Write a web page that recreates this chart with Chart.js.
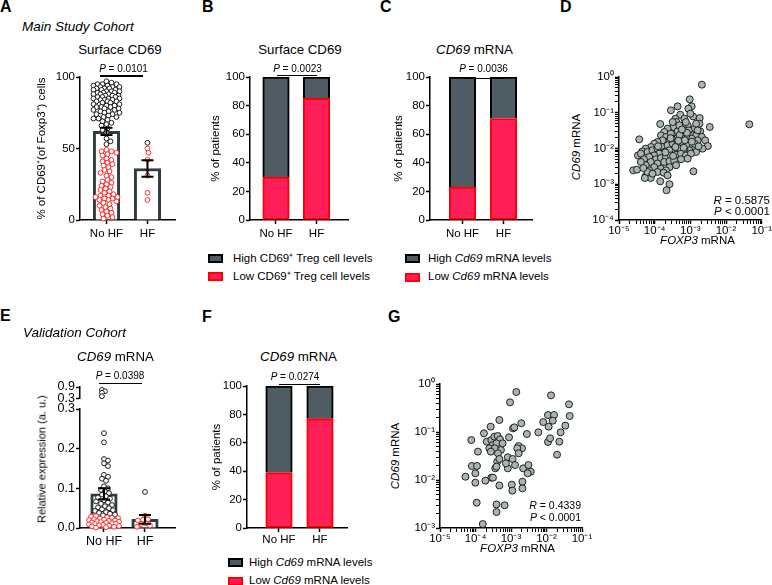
<!DOCTYPE html>
<html>
<head>
<meta charset="utf-8">
<script src="https://cdn.jsdelivr.net/npm/chart.js@4.4.1/dist/chart.umd.min.js"></script>
<style>
  body { margin: 0; width: 772px; height: 585px; position: relative; overflow: hidden; background: #fff;
         font-family: "Liberation Sans", Arial, sans-serif; color: #000; }
  canvas { position: absolute; }
  .t { position: absolute; white-space: nowrap; line-height: 1; }
  .sw { position: absolute; width: 15px; height: 9px; box-sizing: border-box; border: 2px solid; }
  .ln { position: absolute; height: 1.5px; background: #000; }
</style>
</head>
<body>
<script>
// ---------- data ----------
const groups = ['No HF', 'HF'];

// A: surface CD69, % CD69+ of Foxp3+ cells (main cohort)
const aNoHFHigh = [97, 96, 95, 95, 95, 94, 94, 93, 93, 93, 92, 92, 92, 91, 91, 91, 90, 90, 90, 89, 89, 89,
                   88, 88, 88, 87, 87, 87, 86, 86, 86, 85, 85, 85, 84, 84, 84, 83, 83, 83, 82, 82, 81, 81,
                   80, 80, 79, 79, 79, 78, 78, 77, 77, 76, 76, 75, 75, 74, 74, 73, 72, 72, 71, 71, 70, 69,
                   68, 67, 66, 64, 63, 61, 57, 55, 53];
const aNoHFLow = [49, 48, 48, 47, 46, 45, 43, 42, 41, 40, 39, 38, 37, 35, 34, 33, 31, 30, 28, 27, 26, 25,
                  24, 23, 22, 21, 20, 19, 18, 17, 17, 16, 16, 15, 15, 14, 14, 13, 12, 11, 10, 9, 8, 7, 6,
                  5, 4, 3, 2, 1];
const aHFHigh = [54];
const aHFLow = [50, 47, 42, 31, 19, 14];
const aMean = [62, 36];
const aSem = [2.5, 5.8];
const aTicks = [0, 50, 100];

// B, C, F: % of patients (low / high)
const bLow = [30, 85], bHigh = [70, 15];
const cLow = [23, 71], cHigh = [77, 29];
const fLow = [39, 77], fHigh = [61, 23];
const pctTicks = [0, 20, 40, 60, 80, 100];

// D: FOXP3 vs CD69 mRNA (main cohort)
const dX = [2.1e-3, 9.6e-4, 1.09e-3, 8.8e-4, 4.4e-4, 2.85e-4, 5.2e-4, 1.19e-3, 1.83e-3, 1.0e-3,
            6.8e-4, 3.8e-4, 4.05e-4, 1.43e-4, 4.5e-2, 3.5e-3, 1.8e-3, 1.9e-3, 1.3e-3, 8.4e-4,
            6.1e-4, 3.4e-4, 2.3e-4, 1.85e-4, 1.5e-4, 2.07e-4, 2.85e-4, 4.4e-4, 6.8e-4, 1.0e-3,
            1.45e-3, 2.1e-3, 2.6e-3, 3.1e-3, 1.6e-3, 1.09e-3, 7.5e-4, 5.5e-4, 4.0e-4, 2.6e-4,
            1.66e-4, 1.2e-4, 9.7e-5, 3.7e-5, 7.8e-5, 5.6e-5, 4.5e-5, 3.4e-5, 4.1e-5, 6.3e-5,
            8.7e-5, 1.2e-4, 1.66e-4, 2.3e-4, 3.2e-4, 4.4e-4, 6.1e-4, 8.1e-4, 1.16e-3, 1.45e-3,
            9.4e-4, 6.8e-4, 4.9e-4, 3.5e-4, 2.6e-4, 1.85e-4, 1.34e-4, 9.7e-5, 7.0e-5, 5.0e-5,
            1.08e-4, 1.5e-4, 2.07e-4, 2.85e-4, 4.0e-4, 5.5e-4, 7.5e-4, 1.04e-3, 7.8e-5, 1.2e-4,
            1.85e-4, 2.6e-4, 3.5e-4, 5.6e-5, 9.7e-5, 1.5e-4, 2.6e-4, 4.0e-4, 7.0e-5, 1.2e-4,
            2.07e-4, 2.5e-5, 3.2e-5, 5.6e-5, 6.3e-5, 7.8e-5, 1.43e-4, 2.6e-4, 2.15e-4, 1.22e-3,
            5.3e-5, 1.78e-4, 8.7e-5, 4.1e-5, 4.8e-5, 2.3e-4, 5.5e-4, 8.4e-4, 1.3e-3, 2.2e-3,
            1.6e-3, 4.9e-4, 3.2e-4, 7.5e-4, 1.45e-3, 3.0e-4, 5.0e-4, 7.0e-4, 9.0e-4, 2.0e-4,
            3.8e-4, 6.5e-4, 1.1e-3, 1.25e-4, 8.0e-4, 5.8e-4, 4.6e-4, 3.3e-4, 1.7e-3, 2.8e-4];
const dY = [0.61, 0.237, 0.151, 0.13, 0.151, 0.117, 0.088, 0.079, 0.071, 0.094,
            0.068, 0.068, 0.055, 0.0485, 0.0474, 0.040, 0.0495, 0.0302, 0.0359, 0.0445,
            0.0426, 0.040, 0.0359, 0.029, 0.0233, 0.021, 0.026, 0.0302, 0.0302, 0.026,
            0.0233, 0.021, 0.0169, 0.0117, 0.0169, 0.0188, 0.021, 0.021, 0.0188, 0.0169,
            0.0169, 0.0152, 0.0136, 0.018, 0.011, 0.0099, 0.0083, 0.0064, 0.0072, 0.008,
            0.0089, 0.0099, 0.011, 0.0123, 0.0136, 0.0136, 0.0146, 0.0123, 0.011, 0.008,
            0.0089, 0.0095, 0.0099, 0.0095, 0.0089, 0.008, 0.0072, 0.0064, 0.0058, 0.005,
            0.005, 0.0054, 0.0058, 0.0064, 0.0067, 0.0072, 0.0064, 0.0072, 0.0042, 0.0038,
            0.0042, 0.0044, 0.0047, 0.0034, 0.003, 0.00273, 0.003, 0.0034, 0.00245, 0.0022,
            0.00245, 0.00245, 0.00256, 0.0017, 0.0022, 0.0015, 0.00121, 0.001, 0.00068, 0.0023,
            0.0015, 0.0021, 0.00198, 0.0042, 0.00285, 0.00177, 0.005, 0.0052, 0.0136, 0.0099,
            0.0322, 0.0445, 0.055, 0.055, 0.0495, 0.019, 0.024, 0.017, 0.032, 0.0078,
            0.011, 0.0105, 0.0155, 0.0115, 0.0275, 0.034, 0.0165, 0.0062, 0.0115, 0.0195];

// E: CD69 mRNA relative expression (validation cohort)
const eNoHFHigh = [0.75, 0.68, 0.6, 0.42, 0.239, 0.216, 0.174, 0.170, 0.163, 0.156, 0.134, 0.129, 0.124,
                   0.119, 0.105, 0.1, 0.096, 0.092, 0.088, 0.084, 0.08, 0.077, 0.074, 0.07, 0.067, 0.064,
                   0.061, 0.058, 0.055, 0.052, 0.05, 0.047, 0.045, 0.043, 0.04, 0.038, 0.036, 0.034, 0.032];
const eNoHFLow = [0.03, 0.029, 0.027, 0.026, 0.025, 0.024, 0.022, 0.021, 0.02, 0.019, 0.018, 0.017, 0.016,
                  0.015, 0.014, 0.013, 0.012, 0.011, 0.01, 0.009, 0.008, 0.007, 0.006, 0.005, 0.004, 0.003,
                  0.002, 0.001];
const eHFHigh = [0.091];
const eHFLow = [0.031, 0.022, 0.021, 0.019, 0.012, 0.01, 0.006, 0.003];
const eMean = [0.086, 0.022];
const eSem = [0.014, 0.011];
const eBreak = 0.3;
const eTicksLow = [0, 0.1, 0.2, 0.3];
const eTicksHigh = [0.3, 0.9];

// G: FOXP3 vs CD69 mRNA (validation cohort)
const gX = [1.41e-3, 9.4e-4, 1.34e-2, 4.3e-2, 4.5e-2, 1.1e-2, 1.63e-2, 1.5e-2, 8.1e-3, 3.4e-2,
            1.15e-2, 5.9e-3, 2.5e-2, 1.1e-2, 1.26e-2, 2.3e-2, 1.98e-2, 2.67e-4, 4.7e-4, 1.14e-3,
            1.24e-3, 1.95e-3, 8.8e-4, 2.8e-3, 1.73e-4, 7.6e-5, 2.07e-4, 2.8e-4, 3.4e-4, 4.2e-4,
            4.9e-4, 3.05e-4, 3.9e-4, 2.45e-4, 3.5e-4, 5.2e-4, 1.17e-4, 1.64e-3, 2.04e-3, 1.5e-3,
            4.3e-4, 8.1e-4, 1.11e-3, 1.3e-3, 4.1e-4, 4.7e-4, 3.6e-4, 3.9e-4, 7.9e-5, 1.1e-4,
            8.1e-4, 2.2e-3, 3.1e-3, 3.6e-3, 9.9e-5, 5.2e-5, 2.8e-4, 3.1e-4, 1.9e-4, 4.7e-4,
            1.05e-3, 2.1e-3, 2.1e-3, 1.09e-3, 1.08e-4, 3.9e-4, 6.6e-4, 3.9e-4, 1.6e-4, 1.64e-3,
            5.8e-4, 2.7e-4, 7.2e-4, 2.95e-3, 9.9e-5];
const gY = [0.68, 0.415, 0.58, 0.377, 0.215, 0.226, 0.226, 0.172, 0.161, 0.136,
            0.129, 0.0985, 0.0985, 0.062, 0.074, 0.063, 0.0337, 0.129, 0.178, 0.119,
            0.125, 0.152, 0.0774, 0.0908, 0.0938, 0.068, 0.063, 0.068, 0.08, 0.0826,
            0.0703, 0.0536, 0.058, 0.0457, 0.0457, 0.0422, 0.039, 0.051, 0.0457, 0.0457,
            0.036, 0.0297, 0.0274, 0.0205, 0.0241, 0.0274, 0.0175, 0.019, 0.0196, 0.0196,
            0.0175, 0.0175, 0.0205, 0.0149, 0.0138, 0.0117, 0.0112, 0.0112, 0.0097, 0.0077,
            0.008, 0.0092, 0.0067, 0.006, 0.00337, 0.0031, 0.00297, 0.00215, 0.00121, 0.036,
            0.058, 0.039, 0.0222, 0.0138, 0.0088];

const dXTicks = ['10⁻⁵', '10⁻⁴', '10⁻³', '10⁻²', '10⁻¹'];
const dYTicks = ['10⁻⁴', '10⁻³', '10⁻²', '10⁻¹', '10⁰'];
const gYTicks = ['10⁻³', '10⁻²', '10⁻¹', '10⁰'];

// ---------- style ----------
const RED = '#ff2b2b', BLK = '#1c1c1c', BAR = '#2f3d3e';
const HIGH_FILL = '#4f5c63', LOW_FILL = '#ff1f58', LOW_EDGE = '#ff0000', DOT = '#a8b6af';

Chart.defaults.font.family = '"Liberation Sans", Arial, sans-serif';
Chart.defaults.font.size = 11.5;
Chart.defaults.color = '#000';

function makeCanvas(left, top, w, h) {
  const c = document.createElement('canvas');
  c.width = w; c.height = h;
  c.style.left = left + 'px'; c.style.top = top + 'px';
  c.style.width = w + 'px'; c.style.height = h + 'px';
  document.body.appendChild(c);
  return c;
}

function axisStyle(tickLen, pad, size) {
  return {
    border: { display: true, color: '#000', width: 1.5 },
    grid: { display: true, drawOnChartArea: false, drawTicks: true, tickLength: tickLen, tickColor: '#000', tickWidth: 1.5 },
    ticks: { color: '#000', padding: pad, autoSkip: false, maxRotation: 0, minRotation: 0, font: { size: size } }
  };
}

function valueAxis(o) {
  const a = axisStyle(4, 1, o.font || 11.5);
  a.type = 'linear'; a.position = 'left';
  a.min = o.min; a.max = o.max; a.stacked = !!o.stacked;
  a.ticks.callback = o.fmt || (v => String(v));
  a.afterBuildTicks = s => { s.ticks = o.ticks.map(v => ({ value: v })); };
  a.afterFit = s => { s.width = o.width; };
  a.title = o.title ? { display: true, text: o.title, padding: 0, color: '#000', font: { size: 11.5 } } : { display: false };
  return a;
}

function groupAxis(o) {
  const a = axisStyle(4, o.pad, o.font || 11.5);
  a.type = 'linear'; a.position = 'bottom';
  a.min = o.min; a.max = o.max; a.offset = false; a.grid.offset = false;
  a.stacked = !!o.stacked; a.display = o.display !== false;
  a.ticks.callback = (v, i) => groups[i];
  a.afterBuildTicks = s => { s.ticks = groups.map((g, i) => ({ value: i })); };
  a.afterFit = s => { s.height = o.height; };
  return a;
}

function decadeTicks(lo, hi) {
  const t = [];
  for (let e = lo; e < hi; e++)
    for (let m = 1; m < 10; m++) t.push({ value: parseFloat(m + 'e' + e), major: m === 1 });
  t.push({ value: parseFloat('1e' + hi), major: true });
  return t;
}

function logAxis(o) {
  const a = axisStyle(4, o.pad, 11.5);
  a.type = 'logarithmic'; a.position = o.position;
  a.min = parseFloat('1e' + o.minExp); a.max = parseFloat('1e' + o.maxExp);
  a.grid.tickWidth = c => (c.tick && c.tick.major ? 1.5 : 1);
  a.ticks.callback = (v, i, t) => (t[i].major ? o.labels[Math.round(Math.log10(v)) - o.minExp] : '');
  a.afterBuildTicks = s => { s.ticks = decadeTicks(o.minExp, o.maxExp); };
  a.afterFit = o.position === 'left' ? (s => { s.width = o.size; }) : (s => { s.height = o.size; });
  return a;
}

function baseOptions(pad, scales, extra) {
  return {
    responsive: false, animation: false, layout: { padding: pad }, scales: scales,
    plugins: Object.assign({ legend: { display: false }, tooltip: { enabled: false } }, extra || {})
  };
}

function meanBar(vals) {
  return { type: 'bar', data: vals.map((v, i) => ({ x: i, y: v })), backgroundColor: '#fff',
           borderColor: BAR, borderWidth: 3, barThickness: 26.5, order: 2 };
}
function stackBar(vals, fill, edge, skip) {
  return { type: 'bar', data: vals.map((v, i) => ({ x: i, y: v })), backgroundColor: fill,
           borderColor: edge, borderWidth: 2, borderSkipped: skip, barThickness: 26.5, grouped: false };
}
function dots(vals, group, color) {
  return { type: 'scatter', data: vals.map(v => ({ x: group, y: v })), pointRadius: 2.4, pointBorderWidth: 1,
           pointBackgroundColor: '#fff', pointBorderColor: color, pointHoverRadius: 2.4, clip: false, order: 1 };
}
function cloud(xs, ys) {
  return { type: 'scatter', data: xs.map((x, i) => ({ x: x, y: ys[i] })), pointRadius: 3.5, pointBorderWidth: 0.9,
           pointBackgroundColor: DOT, pointBorderColor: '#111', pointHoverRadius: 3.5, clip: false };
}

// error bars (mean +/- SEM), drawn on the chart's scales
const errorBars = {
  id: 'errorBars',
  afterDatasetsDraw(chart, args, opts) {
    if (!opts.mean) return;
    const { ctx, scales: { x, y } } = chart;
    ctx.save();
    ctx.strokeStyle = '#000'; ctx.lineWidth = 2;
    opts.mean.forEach((m, i) => {
      const px = x.getPixelForValue(i);
      const top = y.getPixelForValue(m + opts.sem[i]);
      const bot = y.getPixelForValue(m - opts.sem[i]);
      ctx.beginPath();
      ctx.moveTo(px, top); ctx.lineTo(px, bot);
      ctx.moveTo(px - opts.cap, top); ctx.lineTo(px + opts.cap, top);
      ctx.moveTo(px - opts.cap, bot); ctx.lineTo(px + opts.cap, bot);
      ctx.stroke();
    });
    ctx.restore();
  }
};

// simple beeswarm: spread points sideways so they don't pile up
function swarm(chart, specs) {
  const xs = chart.scales.x, ys = chart.scales.y;
  const unit = xs.getPixelForValue(1) - xs.getPixelForValue(0);
  specs.forEach(sp => {
    const pts = [];
    sp.sets.forEach(di => {
      const ds = chart.data.datasets[di];
      ds.data = ds.data.map(p => ({ x: p.x, y: p.y }));
      ds.data.forEach(p => pts.push({ p: p, py: ys.getPixelForValue(p.y) }));
    });
    pts.sort((a, b) => a.py - b.py);
    const placed = [];
    pts.forEach(q => {
      let best = 0, bestD = -1;
      for (let k = 0; k <= 2 * sp.max; k++) {
        const off = (k % 2 ? 1 : -1) * Math.ceil(k / 2);
        let d = Infinity;
        for (const o of placed) d = Math.min(d, Math.hypot(o.x - off, o.y - q.py));
        if (d >= sp.gap) { best = off; break; }
        if (d > bestD) { bestD = d; best = off; }
      }
      placed.push({ x: best, y: q.py });
      q.p.x = sp.center + best / unit;
    });
  });
  chart.update('none');
}

// ---------- A ----------
const chartA = new Chart(makeCanvas(35, 62, 145, 182), {
  type: 'bar',
  data: { datasets: [meanBar(aMean), dots(aNoHFLow, 0, RED), dots(aNoHFHigh, 0, BLK), dots(aHFLow, 1, RED), dots(aHFHigh, 1, BLK)] },
  options: baseOptions({ top: 15, right: 5, bottom: 0, left: 0 }, {
    x: groupAxis({ min: -0.646, max: 1.671, height: 24, pad: 3 }),
    y: valueAxis({ min: 0, max: 100, ticks: aTicks, width: 45, title: '% of CD69⁺(of Foxp3⁺) cells' })
  }, { errorBars: { mean: aMean, sem: aSem, cap: 6 } }),
  plugins: [errorBars]
});
swarm(chartA, [{ sets: [1, 2], center: 0, max: 13, gap: 4.3 }, { sets: [3, 4], center: 1, max: 12, gap: 4.3 }]);

// ---------- B ----------
new Chart(makeCanvas(209, 62, 145, 182), {
  type: 'bar',
  data: { datasets: [stackBar(bLow, LOW_FILL, LOW_EDGE, false), stackBar(bHigh, HIGH_FILL, '#000', 'start')] },
  options: baseOptions({ top: 15, right: 6, bottom: 0, left: 0 }, {
    x: groupAxis({ min: -0.642, max: 1.778, height: 24, pad: 3, stacked: true }),
    y: valueAxis({ min: 0, max: 100, ticks: pctTicks, width: 41, title: '% of patients', stacked: true })
  })
});

// ---------- C ----------
new Chart(makeCanvas(392, 62, 146, 182), {
  type: 'bar',
  data: { datasets: [stackBar(cLow, LOW_FILL, LOW_EDGE, false), stackBar(cHigh, HIGH_FILL, '#000', 'start')] },
  options: baseOptions({ top: 15, right: 6, bottom: 0, left: 0 }, {
    x: groupAxis({ min: -0.793, max: 1.695, height: 24, pad: 3, stacked: true }),
    y: valueAxis({ min: 0, max: 100, ticks: pctTicks, width: 38, title: '% of patients', stacked: true })
  })
});

// ---------- D ----------
new Chart(makeCanvas(585, 62, 187, 178), {
  type: 'scatter',
  data: { datasets: [cloud(dX, dY)] },
  options: baseOptions({ top: 15, right: 10, bottom: 0, left: 0 }, {
    x: logAxis({ position: 'bottom', minExp: -5, maxExp: -1, labels: dXTicks, size: 20, pad: 0 }),
    y: logAxis({ position: 'left', minExp: -4, maxExp: 0, labels: dYTicks, size: 34, pad: 1 })
  })
});

// ---------- E (broken axis: two stacked charts) ----------
const eLowHigh = eNoHFHigh.filter(v => v <= eBreak);
const eTop = eNoHFHigh.filter(v => v > eBreak);
const chartE = new Chart(makeCanvas(45, 394, 135, 158), {
  type: 'bar',
  data: { datasets: [meanBar(eMean), dots(eNoHFLow, 0, RED), dots(eLowHigh, 0, BLK), dots(eHFLow, 1, RED), dots(eHFHigh, 1, BLK)] },
  options: baseOptions({ top: 15, right: 5, bottom: 0, left: 0 }, {
    x: groupAxis({ min: -0.585, max: 1.732, height: 24, pad: 2, font: 12.5 }),
    y: valueAxis({ min: 0, max: eBreak, ticks: eTicksLow, width: 35, fmt: v => v.toFixed(1), font: 12.5 })
  }, { errorBars: { mean: eMean, sem: eSem, cap: 6 } }),
  plugins: [errorBars]
});
swarm(chartE, [{ sets: [1, 2], center: 0, max: 15, gap: 4.2 }, { sets: [3, 4], center: 1, max: 14, gap: 4.2 }]);

const chartE2 = new Chart(makeCanvas(45, 377, 135, 30), {
  type: 'scatter',
  data: { datasets: [dots(eTop, 0, BLK)] },
  options: baseOptions({ top: 10, right: 5, bottom: 8, left: 0 }, {
    x: groupAxis({ min: -0.585, max: 1.732, height: 0, pad: 2, display: false }),
    y: valueAxis({ min: eBreak, max: 0.9, ticks: eTicksHigh, width: 35, fmt: v => v.toFixed(1), font: 12.5 })
  })
});
swarm(chartE2, [{ sets: [0], center: -0.05, max: 4, gap: 2.5 }]);

// ---------- F ----------
new Chart(makeCanvas(210, 371, 143, 181), {
  type: 'bar',
  data: { datasets: [stackBar(fLow, LOW_FILL, LOW_EDGE, false), stackBar(fHigh, HIGH_FILL, '#000', 'start')] },
  options: baseOptions({ top: 15, right: 6, bottom: 0, left: 0 }, {
    x: groupAxis({ min: -0.78, max: 1.659, height: 24, pad: 1, stacked: true }),
    y: valueAxis({ min: 0, max: 100, ticks: pctTicks, width: 37, title: '% of patients', stacked: true })
  })
});

// ---------- G ----------
new Chart(makeCanvas(405, 369, 190, 179), {
  type: 'scatter',
  data: { datasets: [cloud(gX, gY)] },
  options: baseOptions({ top: 15, right: 13, bottom: 0, left: 0 }, {
    x: logAxis({ position: 'bottom', minExp: -5, maxExp: -1, labels: dXTicks, size: 20, pad: 0 }),
    y: logAxis({ position: 'left', minExp: -3, maxExp: 0, labels: gYTicks, size: 35, pad: 1 })
  })
});

// ---------- text, brackets, legends ----------
function put(html, x, cy, size, how) {
  how = how || {};
  const d = document.createElement('div');
  d.className = 't';
  d.innerHTML = html;
  d.style.fontSize = size + 'px';
  if (how.bold) d.style.fontWeight = 'bold';
  if (how.italic) d.style.fontStyle = 'italic';
  if (how.rot) {
    d.style.left = x + 'px'; d.style.top = cy + 'px';
    d.style.transform = 'translate(-50%, -50%) rotate(-90deg)';
  } else {
    d.style.top = (cy - size / 2) + 'px';
    if (how.align === 'center') { d.style.left = x + 'px'; d.style.transform = 'translateX(-50%)'; }
    else if (how.align === 'right') d.style.right = (772 - x) + 'px';
    else d.style.left = x + 'px';
  }
  document.body.appendChild(d);
}
function bracket(x1, x2, y) {
  const d = document.createElement('div');
  d.className = 'ln';
  d.style.left = x1 + 'px'; d.style.top = (y - 0.75) + 'px'; d.style.width = (x2 - x1) + 'px';
  document.body.appendChild(d);
}
function swatch(x, cy, fill, edge) {
  const d = document.createElement('div');
  d.className = 'sw';
  d.style.left = x + 'px'; d.style.top = (cy - 4.5) + 'px';
  d.style.background = fill; d.style.borderColor = edge;
  document.body.appendChild(d);
}

const C = { align: 'center' };
put('A', 0, 6.5, 16, { bold: true });
put('B', 202, 6.5, 16, { bold: true });
put('C', 380, 6.5, 16, { bold: true });
put('D', 560, 6.5, 16, { bold: true });
put('E', 0, 316, 16, { bold: true });
put('F', 202, 317, 16, { bold: true });
put('G', 388, 317, 16, { bold: true });

put('Main Study Cohort', 22, 27, 13.5, { italic: true });
put('Validation Cohort', 23, 333, 13.5, { italic: true });

put('Surface CD69', 120, 50, 13.3, C);
put('Surface CD69', 300, 50, 13.3, C);
put('<i>CD69</i> mRNA', 474.5, 50, 13.3, C);
put('<i>CD69</i> mRNA', 115.5, 357, 13.3, C);
put('<i>CD69</i> mRNA', 298.5, 357, 13.3, C);

put('<i>P</i> = 0.0101', 123.5, 69, 10, C);   bracket(100, 143, 76);
put('<i>P</i> = 0.0023', 297.5, 68.5, 10, C); bracket(277, 317, 75.5);
put('<i>P</i> = 0.0036', 483.5, 68.5, 10, C); bracket(464, 504, 78.5);
put('<i>P</i> = 0.0398', 120, 375.5, 10, C);  bracket(99, 142, 383.3);
put('<i>P</i> = 0.0274', 295, 376.5, 10, C);  bracket(279, 320, 384.3);

put('<i>R</i> = 0.5875', 770, 200.5, 11.5, { align: 'right' });
put('<i>P</i> &lt; 0.0001', 770, 212, 11.5, { align: 'right' });
put('<i>R</i> = 0.4339', 581, 505, 10.5, { align: 'right' });
put('<i>P</i> &lt; 0.0001', 581, 517, 10.5, { align: 'right' });

put('<i>CD69</i> mRNA', 577, 147, 11.5, { rot: true });
put('<i>FOXP3</i> mRNA', 697.5, 240.5, 11.5, C);
put('<i>CD69</i> mRNA', 396, 456, 11.5, { rot: true });
put('<i>FOXP3</i> mRNA', 517.5, 549, 11.5, C);
put('Relative expression (a. u.)', 42, 458.5, 11, { rot: true });

swatch(208, 258.3, HIGH_FILL, '#000'); put('High CD69⁺ Treg cell levels', 233, 258.3, 11.5);
swatch(208, 276.7, LOW_FILL, LOW_EDGE); put('Low CD69⁺ Treg cell levels', 233, 276.7, 11.5);
swatch(405, 258.5, HIGH_FILL, '#000'); put('High <i>Cd69</i> mRNA levels', 428, 258.5, 11.5);
swatch(405, 277, LOW_FILL, LOW_EDGE);  put('Low <i>Cd69</i> mRNA levels', 428, 277, 11.5);
swatch(228, 562.5, HIGH_FILL, '#000'); put('High <i>Cd69</i> mRNA levels', 249, 562.5, 11.5);
swatch(228, 581, LOW_FILL, LOW_EDGE);  put('Low <i>Cd69</i> mRNA levels', 249, 581, 11.5);
</script>
</body>
</html>
